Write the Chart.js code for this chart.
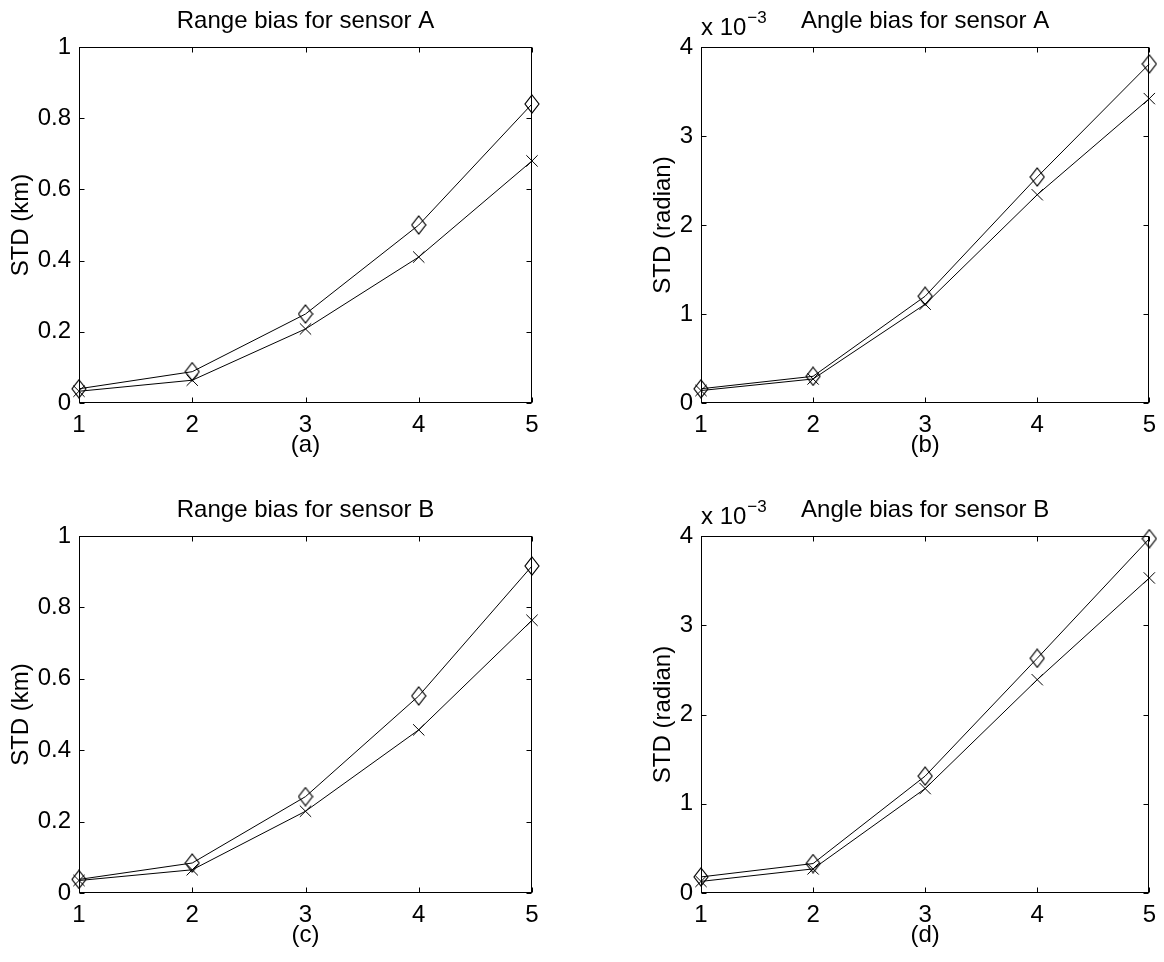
<!DOCTYPE html>
<html><head><meta charset="utf-8">
<script src="https://cdn.jsdelivr.net/npm/chart.js@4.4.0/dist/chart.umd.min.js"></script>
<style>
html,body{margin:0;padding:0;background:#fff;width:1164px;height:962px;overflow:hidden;}
.p{position:absolute;}
canvas{display:block;}
</style></head><body>
<div class="p" style="left:0px;top:0px"><canvas id="ca" width="560" height="470"></canvas></div>
<div class="p" style="left:600px;top:0px"><canvas id="cb" width="564" height="470"></canvas></div>
<div class="p" style="left:0px;top:489px"><canvas id="cc" width="560" height="471"></canvas></div>
<div class="p" style="left:600px;top:489px"><canvas id="cd" width="564" height="471"></canvas></div>
<script>
// ---- data ----
const steps = [1, 2, 3, 4, 5];
const stepLabels = ['1', '2', '3', '4', '5'];
const rangeTicks = [0, 0.2, 0.4, 0.6, 0.8, 1];
const rangeTickLabels = ['0', '0.2', '0.4', '0.6', '0.8', '1'];
const angleTicks = [0, 1, 2, 3, 4];            // x 10^-3 radian
const angleTickLabels = ['0', '1', '2', '3', '4'];

const rangeA_diamond = [0.040, 0.088, 0.250, 0.500, 0.840];
const rangeA_cross   = [0.033, 0.064, 0.208, 0.410, 0.680];
const angleA_diamond = [0.16, 0.30, 1.20, 2.54, 3.81];   // x 10^-3
const angleA_cross   = [0.14, 0.27, 1.11, 2.34, 3.42];   // x 10^-3
const rangeB_diamond = [0.038, 0.084, 0.270, 0.552, 0.916];
const rangeB_cross   = [0.035, 0.065, 0.229, 0.457, 0.764];
const angleB_diamond = [0.18, 0.33, 1.31, 2.63, 3.97];   // x 10^-3
const angleB_cross   = [0.13, 0.27, 1.17, 2.39, 3.53];   // x 10^-3

const FAM = '"Liberation Sans", Arial, Helvetica, sans-serif';
const FS = 24;

// hollow diamond marker (MATLAB 'd')
function makeDiamond() {
  const c = document.createElement('canvas');
  c.width = 16; c.height = 20;
  const g = c.getContext('2d');
  g.strokeStyle = '#000'; g.lineWidth = 1.2;
  g.beginPath();
  g.moveTo(8, 1); g.lineTo(15, 10); g.lineTo(8, 19); g.lineTo(1, 10); g.closePath();
  g.stroke();
  return c;
}
const diamond = makeDiamond();

const boxPlugin = {
  id: 'matBox',
  afterDraw(chart) {
    const {ctx, chartArea: a, scales: {x, y}} = chart;
    const L = Math.round(a.left) + 0.5, R = Math.round(a.right) - 0.5;
    const T = Math.round(a.top) + 0.5, B = Math.round(a.bottom) - 0.5;
    ctx.save();
    ctx.strokeStyle = '#000'; ctx.lineWidth = 1;
    ctx.strokeRect(L, T, R - L, B - T);
    const tl = 5;
    ctx.beginPath();
    x.ticks.forEach(t => {
      const px = Math.round(x.getPixelForValue(t.value)) + 0.5;
      ctx.moveTo(px, B); ctx.lineTo(px, B - tl);
      ctx.moveTo(px, T); ctx.lineTo(px, T + tl);
    });
    y.ticks.forEach(t => {
      const py = Math.round(y.getPixelForValue(t.value)) + 0.5;
      ctx.moveTo(L, py); ctx.lineTo(L + tl, py);
      ctx.moveTo(R, py); ctx.lineTo(R - tl, py);
    });
    ctx.stroke();
    ctx.restore();
  }
};

const multPlugin = {
  id: 'mult',
  afterDraw(chart, args, opts) {
    if (!opts || !opts.show) return;
    const {ctx, chartArea: a} = chart;
    ctx.save();
    ctx.fillStyle = '#000';
    ctx.textAlign = 'left'; ctx.textBaseline = 'alphabetic';
    ctx.font = FS + 'px ' + FAM;
    const base = a.top - 12;
    ctx.fillText('x 10', a.left, base);
    const w = ctx.measureText('x 10').width;
    ctx.font = '17px ' + FAM;
    ctx.fillText('\u22123', a.left + w + 1, base - 12);
    ctx.restore();
  }
};

function makeChart(id, title, xlabel, ylabel, yTicks, yLabels, dia, crs, yAxisWidth, padRight, yTitlePad, mult) {
  const font = {family: FAM, size: FS, weight: 'normal'};
  return new Chart(document.getElementById(id), {
    type: 'line',
    data: {
      datasets: [
        {
          data: steps.map((s, i) => ({x: s, y: dia[i]})),
          borderColor: '#000', borderWidth: 1, pointStyle: diamond,
          pointRadius: 8, pointBorderColor: '#000', pointBackgroundColor: 'rgba(0,0,0,0)',
          tension: 0, clip: false, fill: false
        },
        {
          data: steps.map((s, i) => ({x: s, y: crs[i]})),
          borderColor: '#000', borderWidth: 1, pointStyle: 'crossRot',
          pointRadius: 8, pointBorderWidth: 1, pointBorderColor: '#000',
          pointBackgroundColor: 'rgba(0,0,0,0)', tension: 0, clip: false, fill: false
        }
      ]
    },
    options: {
      responsive: false, animation: false, devicePixelRatio: 1,
      layout: {padding: {left: 0, right: padRight, top: 0, bottom: 0}},
      plugins: {
        legend: {display: false},
        tooltip: {enabled: false},
        title: {display: true, text: title, fullSize: false, color: '#000',
                font: font, padding: {top: 6.6, bottom: 11.6}},
        mult: {show: mult}
      },
      scales: {
        x: {
          type: 'linear', min: 1, max: 5,
          afterBuildTicks: s => { s.ticks = steps.map(v => ({value: v})); },
          grid: {display: false, drawTicks: false}, border: {display: false},
          ticks: {padding: 8, color: '#000', font: font, maxRotation: 0, autoSkip: false,
                  callback: (v) => stepLabels[steps.indexOf(v)]},
          title: {display: true, text: xlabel, color: '#000', font: font, padding: {top: 0, bottom: 10.6}},
          afterFit: s => { s.height = 67; }
        },
        y: {
          type: 'linear', min: yTicks[0], max: yTicks[yTicks.length - 1],
          afterBuildTicks: s => { s.ticks = yTicks.map(v => ({value: v})); },
          grid: {display: false, drawTicks: false}, border: {display: false},
          ticks: {padding: 8, color: '#000', font: font, autoSkip: false,
                  callback: (v) => yLabels[yTicks.indexOf(v)]},
          title: {display: true, text: ylabel, color: '#000', font: font, padding: {top: yTitlePad, bottom: 0}},
          afterFit: s => { s.width = yAxisWidth; }
        }
      }
    },
    plugins: [boxPlugin, multPlugin]
  });
}

makeChart('ca', 'Range bias for sensor A', '(a)', 'STD (km)', rangeTicks, rangeTickLabels,
          rangeA_diamond, rangeA_cross, 79, 28, 6.6, false);
makeChart('cb', 'Angle bias for sensor A', '(b)', 'STD (radian)', angleTicks, angleTickLabels,
          angleA_diamond, angleA_cross, 101, 11, 48.6, true);
makeChart('cc', 'Range bias for sensor B', '(c)', 'STD (km)', rangeTicks, rangeTickLabels,
          rangeB_diamond, rangeB_cross, 79, 28, 6.6, false);
makeChart('cd', 'Angle bias for sensor B', '(d)', 'STD (radian)', angleTicks, angleTickLabels,
          angleB_diamond, angleB_cross, 101, 11, 48.6, true);
</script>
</body></html>
